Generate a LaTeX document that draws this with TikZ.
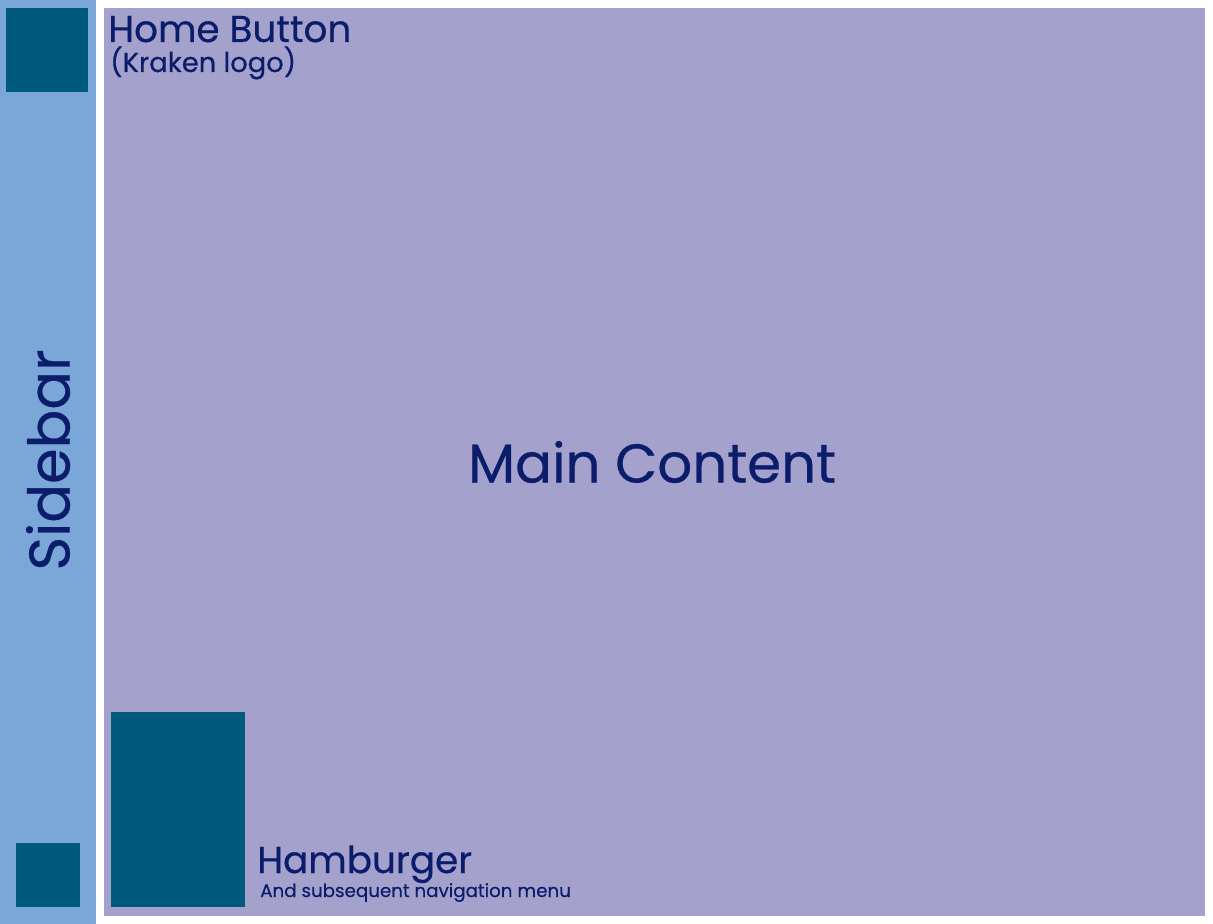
\documentclass[tikz,border=0pt]{standalone}
\usepackage{fontspec}
\setmainfont{Poppins}[FakeBold=0.5]
\usepackage{tikz}
\definecolor{sidebarblue}{HTML}{7BA7D8}
\definecolor{mainlilac}{HTML}{A4A2CC}
\definecolor{buttonteal}{HTML}{005A7D}
\definecolor{labelnavy}{HTML}{0B1C6B}
\tikzset{
    label/.style={text=labelnavy, inner sep=0pt},
    bigtext/.style={label, font=\fontsize{28}{34}\selectfont},
    smalltext/.style={label, font=\fontsize{20.5}{25}\selectfont}
}

\begin{document}
\begin{tikzpicture}[x=0.75pt, y=-0.75pt]
        \useasboundingbox (0,0) rectangle (1213,924);

        % --- Panels ---
        \fill [sidebarblue] (0,0) rectangle (96,924);
        \fill [mainlilac] (104,8) rectangle (1205,916);

        % --- Buttons ---
        \fill [buttonteal] (6,8) rectangle (88,92);
        \fill [buttonteal] (16,843) rectangle (80,907);
        \fill [buttonteal] (111,712) rectangle (245,907);

        % --- Labels ---
        \node [bigtext, anchor=base west] (home) at (108,42) {Home Button};
        \node [smalltext, anchor=base west] (logo) at (110,72) {(Kraken logo)};
        \node [label, font=\fontsize{41}{49}\selectfont] (main) at (652,462) {Main Content};
        \node [label, font=\fontsize{43}{52}\selectfont, rotate=90] (sidebar) at (48,460) {Sidebar};
        \node [bigtext, anchor=base west] (hamburger) at (257,873) {Hamburger};
        \node [label, font=\fontsize{13.7}{16}\selectfont, anchor=base west] (menu) at (260,897) {And subsequent navigation menu};

    \end{tikzpicture}
\end{document}
